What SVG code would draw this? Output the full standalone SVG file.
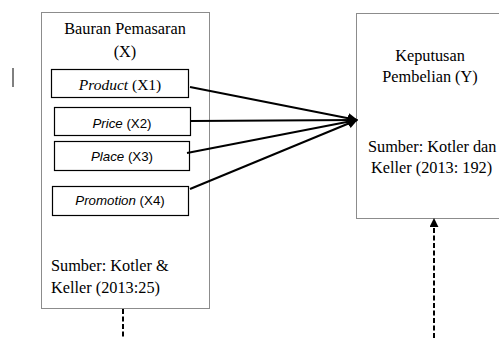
<svg xmlns="http://www.w3.org/2000/svg" width="499" height="338" viewBox="0 0 499 338">
<defs>
<style>
.frame{fill:#fff;stroke:#8c8c8c;stroke-width:1}
.item{fill:#fff;stroke:#000;stroke-width:1.2}
.serif{font-family:'Liberation Serif','DejaVu Serif',serif;font-size:16.3px;fill:#000}
.sans{font-family:'Liberation Sans','DejaVu Sans',sans-serif;font-size:13.3px;fill:#000}
.conn{stroke:#000;stroke-width:2;fill:none}
.dash{stroke:#000;stroke-width:2;fill:none;stroke-dasharray:5,2.5}
</style>
<marker id="ah" viewBox="0 0 10 10" refX="9" refY="5" markerWidth="10" markerHeight="10" markerUnits="userSpaceOnUse" orient="auto">
<path d="M0,0 L10,5 L0,10 Z" fill="#000"/>
</marker>
<marker id="ah2" viewBox="0 0 10 10" refX="9" refY="5" markerWidth="9" markerHeight="9" markerUnits="userSpaceOnUse" orient="auto">
<path d="M0,0 L10,5 L0,10 Z" fill="#000"/>
</marker>
</defs>
<rect width="499" height="338" fill="#fff"/>
<line x1="13" y1="68" x2="13" y2="87" stroke="#000" stroke-width="1"/>
<g id="bauran">
<rect class="frame" x="41.5" y="12.5" width="168" height="296"/>
<text class="serif" x="125" y="34" text-anchor="middle">Bauran Pemasaran</text>
<text class="serif" x="125" y="57" text-anchor="middle">(X)</text>
<text class="serif" x="51" y="271">Sumber: Kotler &amp;</text>
<text class="serif" x="51" y="293">Keller (2013:25)</text>
</g>
<g id="product">
<rect class="item" x="51.5" y="69.5" width="137" height="28"/>
<text class="serif" x="120" y="90" text-anchor="middle" style="font-size:15.5px"><tspan font-style="italic">Product</tspan> (X1)</text>
</g>
<g id="price">
<rect class="item" x="54.5" y="107.5" width="136" height="28"/>
<text class="sans" x="122" y="128" text-anchor="middle"><tspan font-style="italic">Price</tspan> (X2)</text>
</g>
<g id="place">
<rect class="item" x="54.5" y="141.5" width="135" height="29"/>
<text class="sans" x="122" y="161" text-anchor="middle"><tspan font-style="italic">Place</tspan> (X3)</text>
</g>
<g id="promotion">
<rect class="item" x="52.5" y="186.5" width="136" height="29"/>
<text class="sans" x="120" y="205" text-anchor="middle"><tspan font-style="italic">Promotion</tspan> (X4)</text>
</g>
<g id="keputusan">
<rect class="frame" x="356.5" y="13.5" width="150" height="205"/>
<text class="serif" x="430" y="61" text-anchor="middle">Keputusan</text>
<text class="serif" x="430" y="82" text-anchor="middle">Pembelian (Y)</text>
<text class="serif" x="368" y="152">Sumber: Kotler dan</text>
<text class="serif" x="371" y="173">Keller (2013: 192)</text>
</g>
<g id="connectors">
<line class="conn" x1="190" y1="87" x2="357" y2="120" marker-end="url(#ah)"/>
<line class="conn" x1="191" y1="121" x2="357" y2="120" marker-end="url(#ah)"/>
<line class="conn" x1="187" y1="153" x2="357" y2="120" marker-end="url(#ah)"/>
<line class="conn" x1="190" y1="189" x2="357" y2="120" marker-end="url(#ah)"/>
<line class="dash" x1="123" y1="309" x2="123" y2="338"/>
<line class="dash" x1="434" y1="338" x2="434" y2="219" marker-end="url(#ah2)"/>
</g>
</svg>
